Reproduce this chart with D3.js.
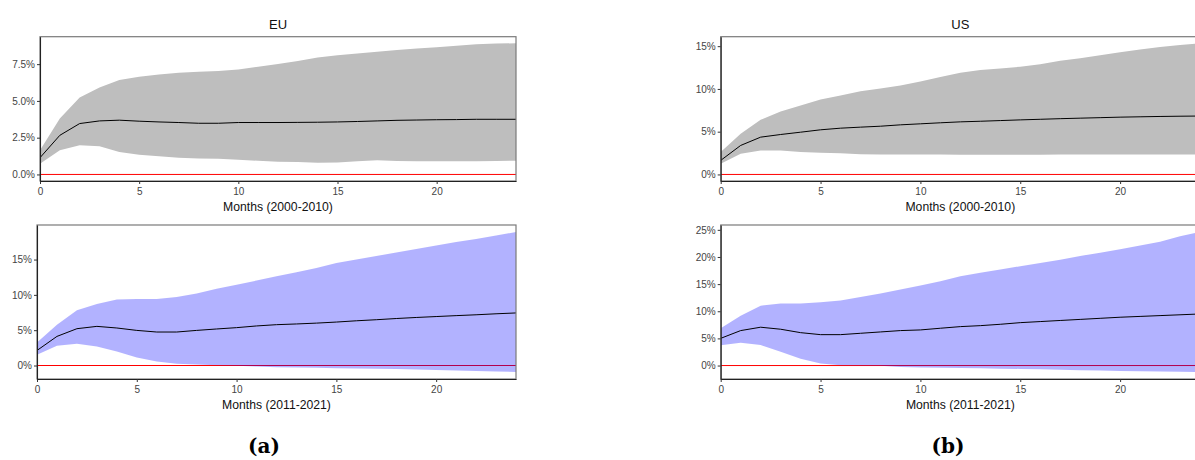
<!DOCTYPE html>
<html>
<head>
<meta charset="utf-8">
<script src="https://cdn.jsdelivr.net/npm/d3@7"></script>
<style>
  html, body { margin: 0; padding: 0; background: #fff; }
  svg { display: block; font-family: "Liberation Sans", Arial, sans-serif; }
</style>
</head>
<body>
<svg id="fig" width="1195" height="460"></svg>
<script>
// Horizon in months
const months = [0, 1, 2, 3, 4, 5, 6, 7, 8, 9, 10, 11, 12, 13, 14, 15, 16, 17, 18, 19, 20, 21, 22, 23, 24];
const xTicks = [0, 5, 10, 15, 20];

// EU, 2000-2010 (response in %)
const euPreMid = [1.14, 2.66, 3.46, 3.64, 3.69, 3.62, 3.57, 3.53, 3.48, 3.48, 3.53, 3.53, 3.53, 3.54, 3.55, 3.57, 3.60, 3.64, 3.68, 3.70, 3.72, 3.73, 3.75, 3.75, 3.75];
const euPreLo  = [0.73, 1.64, 1.98, 1.91, 1.52, 1.34, 1.23, 1.14, 1.09, 1.07, 1.00, 0.93, 0.87, 0.84, 0.80, 0.82, 0.90, 0.96, 0.92, 0.90, 0.89, 0.89, 0.90, 0.92, 0.93];
const euPreHi  = [1.64, 3.80, 5.23, 5.92, 6.42, 6.64, 6.80, 6.92, 6.98, 7.03, 7.14, 7.32, 7.51, 7.72, 7.95, 8.10, 8.22, 8.34, 8.46, 8.56, 8.65, 8.75, 8.85, 8.90, 8.92];
const euPreTicks = [0, 2.5, 5, 7.5];

// EU, 2011-2021
const euPostMid = [2.13, 4.12, 5.21, 5.54, 5.31, 4.97, 4.74, 4.74, 4.97, 5.17, 5.36, 5.60, 5.78, 5.88, 6.00, 6.15, 6.33, 6.48, 6.65, 6.80, 6.93, 7.06, 7.18, 7.32, 7.44];
const euPostLo  = [1.52, 2.80, 3.08, 2.70, 1.99, 1.14, 0.57, 0.24, 0.14, 0.05, -0.04, -0.14, -0.23, -0.28, -0.32, -0.38, -0.42, -0.46, -0.50, -0.55, -0.62, -0.72, -0.78, -0.84, -0.92];
const euPostHi  = [3.27, 5.78, 7.81, 8.72, 9.33, 9.43, 9.43, 9.71, 10.18, 10.85, 11.42, 12.03, 12.64, 13.21, 13.80, 14.50, 15.00, 15.50, 16.00, 16.50, 17.00, 17.50, 17.90, 18.40, 18.90];
const euPostTicks = [0, 5, 10, 15];

// US, 2000-2010
const usPreMid = [1.64, 3.39, 4.36, 4.67, 4.94, 5.22, 5.41, 5.53, 5.64, 5.80, 5.92, 6.04, 6.15, 6.22, 6.30, 6.38, 6.45, 6.52, 6.58, 6.64, 6.70, 6.74, 6.78, 6.81, 6.83];
const usPreLo  = [1.25, 2.42, 2.80, 2.80, 2.61, 2.53, 2.49, 2.37, 2.34, 2.34, 2.34, 2.32, 2.30, 2.30, 2.30, 2.30, 2.30, 2.32, 2.34, 2.34, 2.34, 2.34, 2.34, 2.34, 2.34];
const usPreHi  = [2.61, 4.75, 6.39, 7.36, 8.06, 8.76, 9.23, 9.73, 10.05, 10.40, 10.86, 11.40, 11.90, 12.20, 12.40, 12.60, 12.90, 13.30, 13.60, 13.95, 14.30, 14.60, 14.90, 15.15, 15.34];
const usPreTicks = [0, 5, 10, 15];

// US, 2011-2021
const usPostMid = [5.01, 6.44, 7.06, 6.69, 6.06, 5.69, 5.69, 5.94, 6.19, 6.44, 6.56, 6.87, 7.17, 7.35, 7.60, 7.90, 8.10, 8.30, 8.50, 8.70, 8.90, 9.05, 9.20, 9.35, 9.50];
const usPostLo  = [3.72, 4.21, 3.77, 2.53, 1.23, 0.37, 0.06, 0.00, -0.06, -0.25, -0.37, -0.43, -0.47, -0.52, -0.57, -0.62, -0.70, -0.78, -0.87, -0.93, -0.99, -1.04, -1.09, -1.14, -1.19];
const usPostHi  = [6.87, 9.16, 11.02, 11.45, 11.45, 11.64, 12.00, 12.64, 13.25, 14.00, 14.74, 15.54, 16.47, 17.10, 17.70, 18.30, 18.90, 19.50, 20.20, 20.80, 21.40, 22.10, 22.80, 23.80, 24.60];
const usPostTicks = [0, 5, 10, 15, 20, 25];

const regionTitles = ["EU", "US"];
const periodLabels = ["Months (2000-2010)", "Months (2011-2021)"];
const figureCaptions = ["(a)", "(b)"];

const svg = d3.select("#fig");

const GREY_BAND = "#bebebe";
const BLUE_BAND = "#b3b3ff";

const panels = [
  { mid: euPreMid,  lo: euPreLo,  hi: euPreHi,  ticks: euPreTicks,  fmt: d => d.toFixed(1) + "%", fill: GREY_BAND,
    xLabel: periodLabels[0], box: [40, 516, 36.7, 181] },
  { mid: euPostMid, lo: euPostLo, hi: euPostHi, ticks: euPostTicks, fmt: d => d + "%", fill: BLUE_BAND,
    xLabel: periodLabels[1], box: [37, 516, 225, 379] },
  { mid: usPreMid,  lo: usPreLo,  hi: usPreHi,  ticks: usPreTicks,  fmt: d => d + "%", fill: GREY_BAND,
    xLabel: periodLabels[0], box: [720.7, 1200, 36.7, 181] },
  { mid: usPostMid, lo: usPostLo, hi: usPostHi, ticks: usPostTicks, fmt: d => d + "%", fill: BLUE_BAND,
    xLabel: periodLabels[1], box: [720.7, 1200, 225, 379] }
];

panels.forEach((p, i) => {
  const [x0, x1, y0, y1] = p.box;
  const x = d3.scaleLinear().domain([0, 24]).range([x0, x1]);
  const yMin = Math.min(0, d3.min(p.lo));
  const yMax = d3.max(p.hi);
  const pad = (yMax - yMin) * 0.05;
  const y = d3.scaleLinear().domain([yMin - pad, yMax + pad]).range([y1, y0]);

  const g = svg.append("g");
  const clipId = "clip" + i;
  g.append("clipPath").attr("id", clipId)
    .append("rect").attr("x", x0).attr("y", y0).attr("width", x1 - x0).attr("height", y1 - y0);

  const plot = g.append("g").attr("clip-path", `url(#${clipId})`);

  // zero reference line
  plot.append("line")
    .attr("x1", x0).attr("x2", x1)
    .attr("y1", y(0)).attr("y2", y(0))
    .attr("stroke", "#ff0000").attr("stroke-width", 1);

  // confidence band
  const rows = months.map((m, k) => ({ m, lo: p.lo[k], hi: p.hi[k], mid: p.mid[k] }));
  plot.append("path").datum(rows)
    .attr("d", d3.area().x(d => x(d.m)).y0(d => y(d.lo)).y1(d => y(d.hi)))
    .attr("fill", p.fill === BLUE_BAND ? "#0000ff" : p.fill)
    .attr("fill-opacity", p.fill === BLUE_BAND ? 0.3 : 1);

  // point estimate
  plot.append("path").datum(rows)
    .attr("d", d3.line().x(d => x(d.m)).y(d => y(d.mid)))
    .attr("fill", "none").attr("stroke", "#000").attr("stroke-width", 1);

  // panel frame
  g.append("rect")
    .attr("x", x0).attr("y", y0).attr("width", x1 - x0).attr("height", y1 - y0)
    .attr("fill", "none").attr("stroke", "#7a7a7a").attr("stroke-width", 1.2);

  const xAxis = g.append("g").attr("transform", `translate(0,${y1})`)
    .call(d3.axisBottom(x).tickValues(xTicks).tickFormat(d3.format("d"))
      .tickSize(3).tickSizeOuter(0).tickPadding(3.5));
  const yAxis = g.append("g").attr("transform", `translate(${x0},0)`)
    .call(d3.axisLeft(y).tickValues(p.ticks).tickFormat(p.fmt)
      .tickSize(3).tickSizeOuter(0).tickPadding(2));

  [xAxis, yAxis].forEach(a => {
    a.attr("font-family", null).attr("font-size", null);
    a.select(".domain").attr("stroke", "#222").attr("stroke-width", 1.1);
    a.selectAll(".tick line").attr("stroke", "#333");
    a.selectAll(".tick text").attr("fill", "#444").style("font-size", "10px");
  });

  g.append("text")
    .attr("x", (x0 + x1) / 2).attr("y", y1 + 29.5)
    .attr("text-anchor", "middle")
    .style("font-size", "12.2px").attr("fill", "#111")
    .text(p.xLabel);
});

// region titles above each column
[[40, 516], [720.7, 1200]].forEach((r, k) => {
  svg.append("text")
    .attr("x", (r[0] + r[1]) / 2).attr("y", 28.5)
    .attr("text-anchor", "middle")
    .style("font-size", "13px").attr("fill", "#111")
    .text(regionTitles[k]);
});

// sub-figure captions
[264, 948].forEach((cx, k) => {
  svg.append("text")
    .attr("x", cx).attr("y", 453)
    .attr("text-anchor", "middle")
    .style("font-family", "'DejaVu Serif', 'Liberation Serif', serif")
    .style("font-weight", "bold")
    .style("font-size", "20px").attr("fill", "#000")
    .text(figureCaptions[k]);
});
</script>
</body>
</html>
